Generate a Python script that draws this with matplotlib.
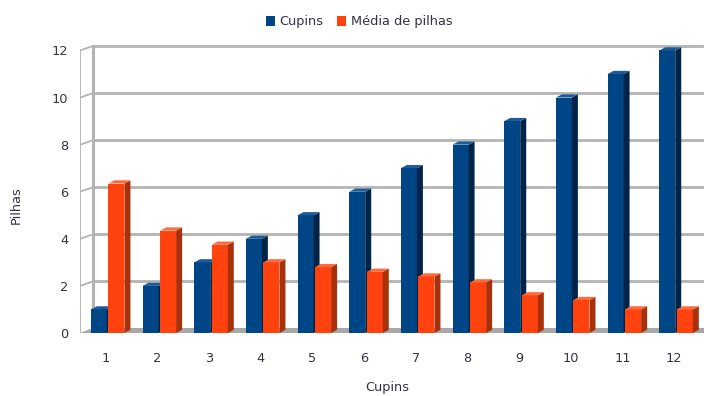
import matplotlib
matplotlib.use('Agg')
import matplotlib.pyplot as plt
from matplotlib.patches import Polygon, Patch

categories = [1, 2, 3, 4, 5, 6, 7, 8, 9, 10, 11, 12]
cupins = [1, 2, 3, 4, 5, 6, 7, 8, 9, 10, 11, 12]
media_pilhas = [6.35, 4.35, 3.75, 3.0, 2.8, 2.6, 2.4, 2.15, 1.6, 1.4, 1.0, 1.0]
yticks = [0, 2, 4, 6, 8, 10, 12]
series_names = ['Cupins', 'Média de pilhas']

plt.rcParams['font.family'] = ['DejaVu Sans']
TXT = '#333344'
GRID = '#b3b3b3'
FS = 9.3

W, H = 704, 396
fig = plt.figure(figsize=(W / 100, H / 100), dpi=100)
ax = fig.add_axes([80 / W, (H - 333) / H, (704 - 80) / W, (333 - 44.6) / H])
xmax = 0.5 + 624 / 51.67
ax.set_xlim(0.5, xmax)
ax.set_ylim(0, 12.25)

dxw = 13 / 51.67
dyw = 4.5 / 23.54

# walls / grid
for t in yticks[1:]:
    ax.plot([0.5 + dxw, xmax], [t + dyw] * 2, color=GRID, lw=2.0, zorder=1, solid_capstyle='butt')
    ax.plot([0.5, 0.5 + dxw], [t, t + dyw], color=GRID, lw=1.3, zorder=1)
ax.plot([0.5, 0.5], [0, 12], color=GRID, lw=1.3, zorder=1)
ax.plot([0.5 + dxw] * 2, [dyw, 12 + dyw], color=GRID, lw=2.2, zorder=1)
ax.add_patch(Polygon([(0.5, 0), (xmax, 0), (xmax, dyw), (0.5 + dxw, dyw)],
                     closed=True, facecolor='#a8a8a8', edgecolor='none', zorder=1))

sdx = 6 / 51.67
sdy = 3.2 / 23.54
bw = 0.31


def bar3d(x0, v, front, side, top, z):
    ax.bar([x0], [v], width=bw, align='edge', color=front, edgecolor='none', zorder=z)
    x1 = x0 + bw
    ax.add_patch(Polygon([(x1, 0), (x1 + sdx, sdy), (x1 + sdx, v + sdy), (x1, v)],
                         closed=True, facecolor=side, edgecolor='none', zorder=z))
    ax.add_patch(Polygon([(x0, v), (x1, v), (x1 + sdx, v + sdy), (x0 + sdx, v + sdy)],
                         closed=True, facecolor=top, edgecolor='none', zorder=z))


z = 2
for c, b, o in zip(categories, cupins, media_pilhas):
    bar3d(c - 0.29, b, '#004586', '#002448', '#1d5b98', z)
    z += 1
    bar3d(c + 0.05, o, '#ff420e', '#a8300a', '#ff6a3c', z)
    z += 1

for s in ax.spines.values():
    s.set_visible(False)
ax.set_yticks(yticks)
ax.set_yticklabels([str(t) for t in yticks], fontsize=FS, color=TXT)
ax.set_xticks(categories)
ax.set_xticklabels([str(c) for c in categories], fontsize=FS, color=TXT)
ax.tick_params(axis='y', length=0, pad=8.5)
ax.tick_params(axis='x', length=0, pad=14)

fig.text(387 / W, 1 - 387 / H, 'Cupins', fontsize=FS, color=TXT, ha='center', va='center')
fig.text(16 / W, 1 - 205 / H, 'Pilhas', fontsize=FS, color=TXT, ha='center', va='center', rotation=90)

handles = [Patch(facecolor='#004586'), Patch(facecolor='#ff420e')]
fig.legend(handles, series_names, loc='center', bbox_to_anchor=(359 / W, 1 - 22 / H), ncol=2,
           frameon=False, handlelength=0.7, handleheight=0.7, handletextpad=0.4,
           columnspacing=1.0, fontsize=FS, labelcolor=TXT)

fig.savefig('out.png', dpi=100)
